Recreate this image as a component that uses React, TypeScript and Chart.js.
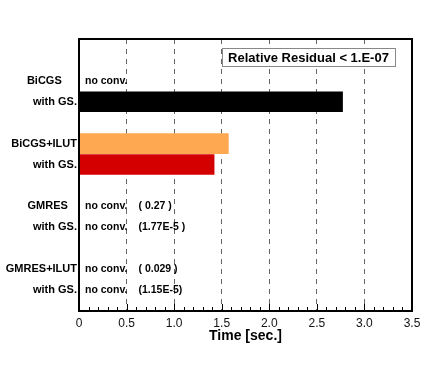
import React, { useEffect, useRef } from "react";
import { Chart, registerables } from "chart.js";

Chart.register(...registerables);

// ---- data ----
const rowLabels = [
  "BiCGS     ",
  "with GS.",
  "BiCGS+ILUT",
  "with GS.",
  "GMRES   ",
  "with GS.",
  "GMRES+ILUT",
  "with GS.",
];
// time in seconds (null = no bar / no convergence)
const times: (number | null)[] = [null, 2.77, 1.57, 1.42, null, null, null, null];
const barColors = ["#000000", "#000000", "#FFA852", "#D40000", "#000000", "#000000", "#000000", "#000000"];
const convNotes = ["no conv.", "", "", "", "no conv.", "no conv.", "no conv.", "no conv."];
const residualNotes = ["", "", "", "", "( 0.27 )", "(1.77E-5 )", "( 0.029 )", "(1.15E-5)"];
// slot index of each row on the vertical axis (gaps between solver groups)
const rowSlots = [2, 3, 5, 6, 8, 9, 11, 12];
const slotCount = 14;
const xTicks = [0, 0.5, 1, 1.5, 2, 2.5, 3, 3.5];
const xTitle = "Time [sec.]";
const boxText = "Relative Residual < 1.E-07";

const FONT = "'Liberation Sans', Arial, Helvetica, sans-serif";

export default function App() {
  const ref = useRef<HTMLCanvasElement | null>(null);

  useEffect(() => {
    if (!ref.current) return;
    const labels: string[] = new Array(slotCount).fill("");
    const values: (number | null)[] = new Array(slotCount).fill(null);
    const colors: string[] = new Array(slotCount).fill("#000");
    rowSlots.forEach((s, i) => {
      labels[s] = rowLabels[i];
      values[s] = times[i];
      colors[s] = barColors[i];
    });

    const overlay = {
      id: "overlay",
      afterDatasetsDraw(chart: any) {
        const { ctx, chartArea, scales } = chart;
        const xs = scales.x;
        const ys = scales.y;
        ctx.save();
        // inward minor/major ticks on bottom axis
        ctx.strokeStyle = "#000";
        ctx.lineWidth = 1;
        for (let i = 0; i <= 35; i++) {
          const v = i / 10;
          const px = Math.round(xs.getPixelForValue(v)) + 0.5;
          const len = i % 5 === 0 ? 7 : 4;
          ctx.beginPath();
          ctx.moveTo(px, chartArea.bottom);
          ctx.lineTo(px, chartArea.bottom - len);
          ctx.stroke();
        }
        // frame
        ctx.lineWidth = 2;
        ctx.strokeStyle = "#000";
        ctx.strokeRect(chartArea.left, chartArea.top, chartArea.right - chartArea.left, chartArea.bottom - chartArea.top);

        // annotations
        ctx.fillStyle = "#000";
        ctx.font = `bold 10.5px ${FONT}`;
        ctx.textBaseline = "middle";
        ctx.textAlign = "left";
        rowSlots.forEach((s, i) => {
          const py = ys.getPixelForValue(s);
          if (convNotes[i]) ctx.fillText(convNotes[i], xs.getPixelForValue(0) + 6, py);
          if (residualNotes[i]) ctx.fillText(residualNotes[i], xs.getPixelForValue(0.625), py);
        });

        // legend-like box
        ctx.font = `bold 13px ${FONT}`;
        const w = 173;
        const h = 18;
        const bx = chartArea.right - 17 - w;
        const by = chartArea.top + 9;
        ctx.fillStyle = "#fff";
        ctx.fillRect(bx, by, w, h);
        ctx.strokeStyle = "#888";
        ctx.lineWidth = 1;
        ctx.strokeRect(bx + 0.5, by + 0.5, w, h);
        ctx.fillStyle = "#000";
        ctx.textAlign = "center";
        ctx.fillText(boxText, bx + w / 2, by + h / 2 + 1);
        ctx.restore();
      },
    };

    const chart = new Chart(ref.current, {
      type: "bar",
      data: {
        labels,
        datasets: [
          {
            data: values as any,
            backgroundColor: colors,
            borderWidth: 0,
            barThickness: 20,
          },
        ],
      },
      options: {
        indexAxis: "y",
        responsive: false,
        animation: false,
        devicePixelRatio: 1,
        layout: { padding: { top: 39, right: 24, left: 0, bottom: 0 } },
        plugins: { legend: { display: false }, tooltip: { enabled: false }, title: { display: false } },
        scales: {
          x: {
            type: "linear",
            min: 0,
            max: 3.5,
            afterBuildTicks: (scale: any) => {
              scale.ticks = xTicks.map((v) => ({ value: v }));
            },
            afterFit: (scale: any) => {
              scale.height = 81;
            },
            ticks: {
              color: "#111",
              font: { family: FONT, size: 12 },
              padding: 5,
              maxRotation: 0,
            },
            grid: {
              color: "#666",
              lineWidth: 1,
              drawTicks: false,
            },
            border: { display: false, dash: [5, 5] },
            title: {
              display: true,
              text: xTitle,
              color: "#000",
              font: { family: FONT, size: 14, weight: "bold" },
              padding: { top: 0, bottom: 47 },
            },
          },
          y: {
            type: "category",
            offset: false,
            afterFit: (scale: any) => {
              scale.width = 79;
            },
            ticks: {
              autoSkip: false,
              color: "#000",
              font: { family: FONT, size: 11, weight: "bold" },
              padding: 2,
            },
            grid: { display: false, drawTicks: false },
            border: { display: false },
          },
        },
      },
      plugins: [overlay],
    });
    return () => chart.destroy();
  }, []);

  return (
    <div style={{ position: "fixed", left: 0, top: 0, width: 436, height: 392, background: "#fff" }}>
      <canvas ref={ref} width={436} height={392} style={{ display: "block" }} />
    </div>
  );
}
